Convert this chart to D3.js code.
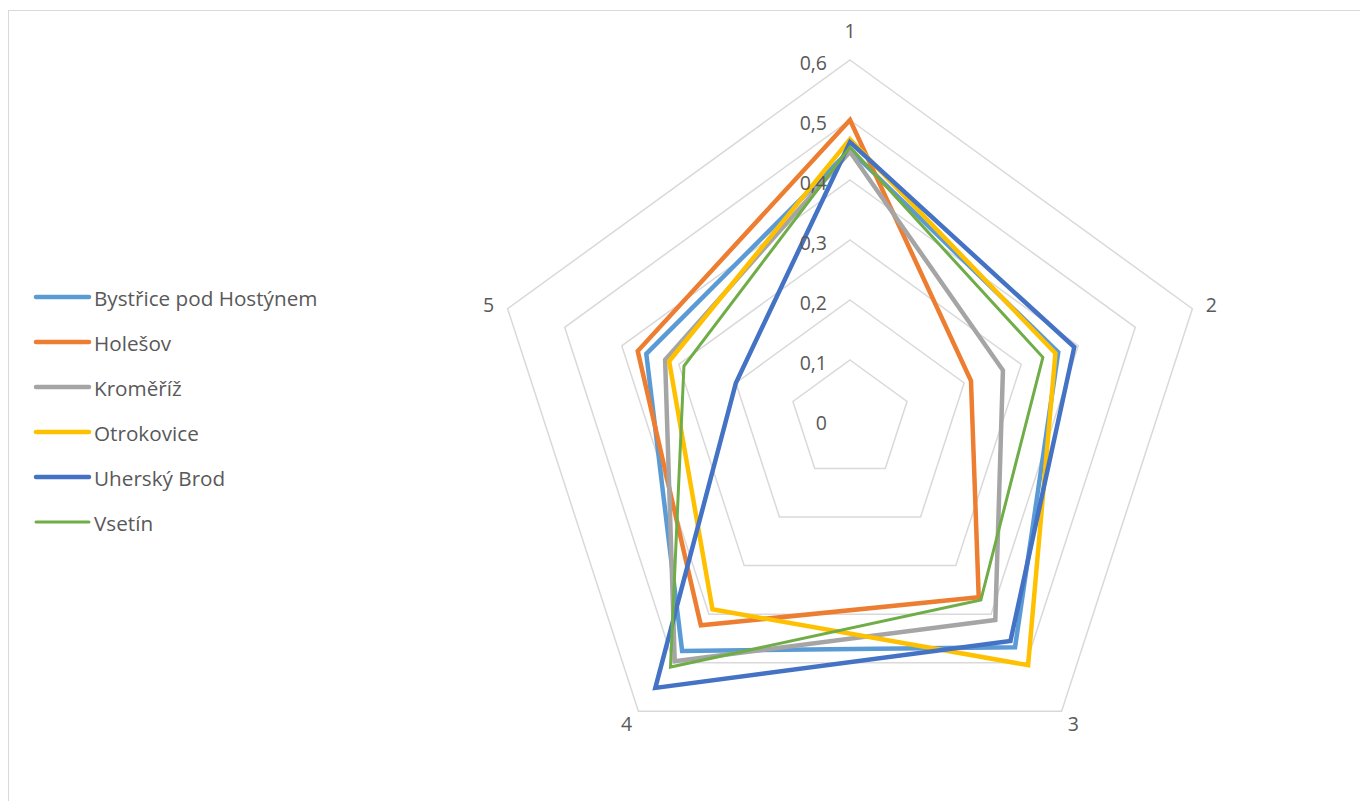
<!DOCTYPE html>
<html>
<head>
<meta charset="utf-8">
<script src="https://cdn.jsdelivr.net/npm/d3@7"></script>
<style>
  html, body { margin: 0; padding: 0; background: #fff; }
  svg { display: block; }
  text { font-family: "Open Sans", "Noto Sans", sans-serif; fill: #595959; }
</style>
</head>
<body>
<svg id="chart" width="1360" height="801"></svg>
<script>
// ---- data ----
const axes = ["1", "2", "3", "4", "5"];
const seriesNames = ["Bystřice pod Hostýnem", "Holešov", "Kroměříž", "Otrokovice", "Uherský Brod", "Vsetín"];
const bystrice   = [0.45, 0.365, 0.468, 0.476, 0.357];
const holesov    = [0.50, 0.212, 0.365, 0.423, 0.372];
const kromeriz   = [0.447, 0.268, 0.412, 0.497, 0.324];
const otrokovice = [0.468, 0.36, 0.505, 0.39, 0.317];
const uherskyBrod= [0.463, 0.393, 0.455, 0.552, 0.20];
const vsetin     = [0.455, 0.338, 0.371, 0.509, 0.291];
const tickValues = [0, 0.1, 0.2, 0.3, 0.4, 0.5, 0.6];
const tickLabels = ["0", "0,1", "0,2", "0,3", "0,4", "0,5", "0,6"];

const seriesValues = [bystrice, holesov, kromeriz, otrokovice, uherskyBrod, vsetin];
const colors = ["#5b9bd5", "#ed7d31", "#a5a5a5", "#ffc000", "#4472c4", "#70ad47"];
const widths = [4.5, 4.5, 4.5, 4.5, 4.5, 3];

const svg = d3.select("#chart");
const cx = 850, cy = 420;
const r = d3.scaleLinear().domain([0, 0.6]).range([0, 360]);
const angle = d3.scalePoint().domain(axes.concat(["_"])).range([-Math.PI / 2, -Math.PI / 2 + 2 * Math.PI]);

// chart frame
svg.append("rect").attr("x", 8.5).attr("y", 10.5).attr("width", 1400).attr("height", 900)
  .attr("fill", "none").attr("stroke", "#d9d9d9").attr("stroke-width", 1);

const g = svg.append("g").attr("transform", `translate(${cx},${cy})`);

const pt = (a, v) => [r(v) * Math.cos(angle(a)), r(v) * Math.sin(angle(a))];

// grid pentagons
const lineClosed = d3.line().curve(d3.curveLinearClosed);
g.selectAll("path.grid").data(tickValues.filter(t => t > 0)).join("path")
  .attr("class", "grid")
  .attr("d", t => lineClosed(axes.map(a => pt(a, t))))
  .attr("fill", "none").attr("stroke", "#d9d9d9").attr("stroke-width", 1.5);

// series
g.selectAll("path.series").data(seriesValues).join("path")
  .attr("class", "series")
  .attr("d", vals => lineClosed(axes.map((a, i) => pt(a, vals[i]))))
  .attr("fill", "none")
  .attr("stroke", (d, i) => colors[i])
  .attr("stroke-width", (d, i) => widths[i])
  .attr("stroke-linejoin", "miter");

// tick labels
g.selectAll("text.tick").data(tickValues).join("text")
  .attr("class", "tick")
  .attr("x", -23)
  .attr("y", t => -r(t) + 2)
  .attr("text-anchor", "end")
  .attr("dominant-baseline", "central")
  .attr("font-size", 19.5)
  .text((t, i) => tickLabels[i]);

// axis labels
g.selectAll("text.axis").data(axes).join("text")
  .attr("class", "axis")
  .attr("x", a => r(0.6) * Math.cos(angle(a)) + 20 * Math.cos(angle(a)))
  .attr("y", a => {
    const s = Math.sin(angle(a));
    return r(0.6) * s + s * (s < -0.5 ? 30 : 15);
  })
  .attr("text-anchor", "middle")
  .attr("dominant-baseline", "central")
  .attr("font-size", 19.5)
  .text(a => a);

// legend
const legend = svg.append("g");
const ly = d3.scalePoint().domain(seriesNames).range([297, 522]);
legend.selectAll("line").data(seriesNames).join("line")
  .attr("x1", 36).attr("x2", 89)
  .attr("y1", d => ly(d)).attr("y2", d => ly(d))
  .attr("stroke", (d, i) => colors[i])
  .attr("stroke-width", (d, i) => widths[i])
  .attr("stroke-linecap", "round");
legend.selectAll("text").data(seriesNames).join("text")
  .attr("x", 94).attr("y", d => ly(d) + 1)
  .attr("dominant-baseline", "central")
  .attr("font-size", 20.7)
  .text(d => d);
</script>
</body>
</html>
